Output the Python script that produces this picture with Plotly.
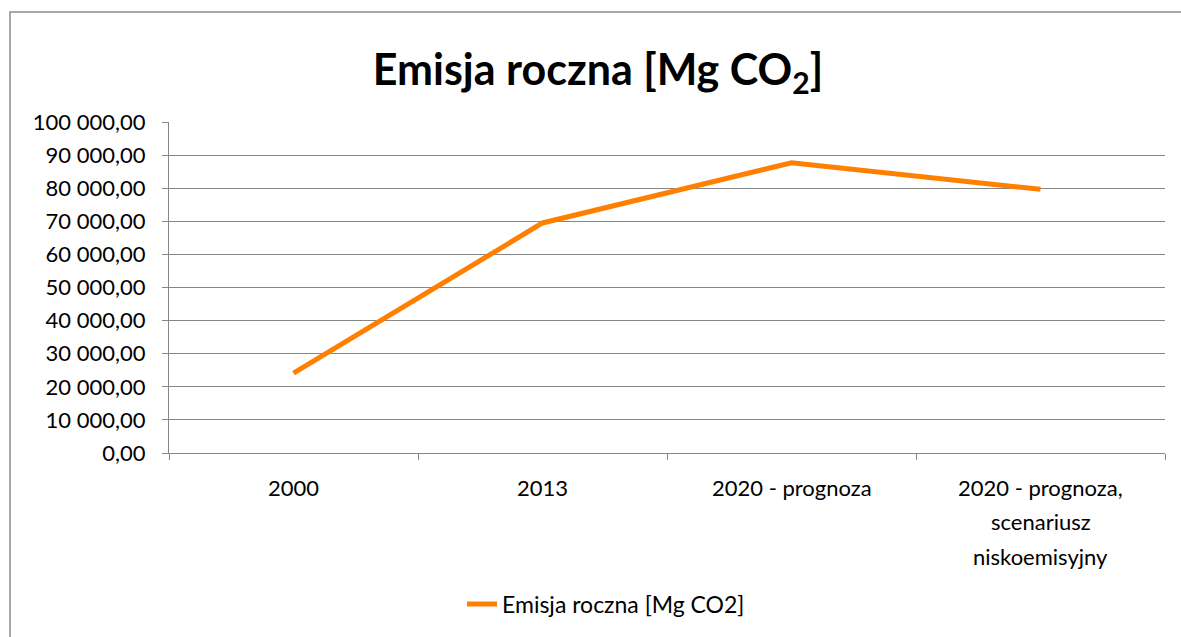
import plotly.graph_objects as go

categories = ["2000", "2013", "2020 - prognoza", "2020 - prognoza,<br>scenariusz<br>niskoemisyjny"]
emisja = [24100, 69500, 87700, 79650]
series_name = "Emisja roczna [Mg CO2]"
title_text = "<b>Emisja roczna [Mg CO<sub>2</sub>]</b>"

FONT = "Lato, Open Sans, DejaVu Sans, sans-serif"

W, H = 1181, 637
L, T = 169, 122
R = W - 1165
B = H - 453
pw = W - L - R
ph = H - T - B

fig = go.Figure()
fig.add_trace(go.Scatter(
    x=categories, y=emisja, mode="lines", name=series_name,
    line=dict(color="#FF8000", width=5),
))

fig.update_layout(
    width=W, height=H,
    margin=dict(l=L, r=R, t=T, b=B),
    paper_bgcolor="white", plot_bgcolor="white",
    separators=", ",
    font=dict(family=FONT, size=22, color="black"),
    title=dict(text=title_text, x=598 / W, xanchor="center",
               y=1 - 70 / H, yanchor="middle",
               font=dict(family=FONT, size=43, color="black")),
    showlegend=True,
    legend=dict(orientation="h", x=(606 - L) / pw, xanchor="center",
                y=-(604 - 453) / ph, yanchor="middle",
                font=dict(family=FONT, size=23, color="black"),
                bgcolor="rgba(0,0,0,0)"),
    xaxis=dict(
        type="category", tickson="boundaries", ticks="outside", ticklen=6,
        tickcolor="#868686", showline=True, linecolor="#868686", linewidth=1.3,
        showgrid=False, showticklabels=False, range=[-0.5, 3.5],
    ),
    yaxis=dict(
        range=[0, 100000], dtick=10000, tickformat=",.2f",
        showgrid=True, gridcolor="#868686", gridwidth=1.3,
        ticks="outside", ticklen=6, tickcolor="#868686",
        showline=True, linecolor="#868686", linewidth=1.3,
        zeroline=False, tickfont=dict(family=FONT, size=22, color="black"),
        ticklabelstandoff=12,
    ),
)

# category labels (one annotation per text line, Excel-like line spacing)
LINE_GAP = 34.5
FIRST = 487 - 453
for idx, cat in enumerate(categories):
    for i, part in enumerate(cat.split("<br>")):
        fig.add_annotation(
            x=idx, xref="x", y=0, yref="paper",
            yshift=-(FIRST + i * LINE_GAP), yanchor="middle", xanchor="center",
            text=part, showarrow=False,
            font=dict(family=FONT, size=22, color="black"),
        )

# outer chart border: only left and top edges are inside the view
bx0 = (10 - L) / pw
bx1 = (W + 10 - L) / pw
by0 = -(H + 10 - (T + ph)) / ph
by1 = 1 + (T - 12) / ph
fig.add_shape(type="path", xref="paper", yref="paper",
              path=f"M {bx0},{by0} L {bx0},{by1} L {bx1},{by1}",
              line=dict(color="#8C8C8C", width=1.5), layer="below")

fig.write_html(
    "out.html",
    config={"displayModeBar": False},
    post_script="document.body.style.margin='0';document.body.style.overflow='hidden';"
                "document.documentElement.style.overflow='hidden';",
)
